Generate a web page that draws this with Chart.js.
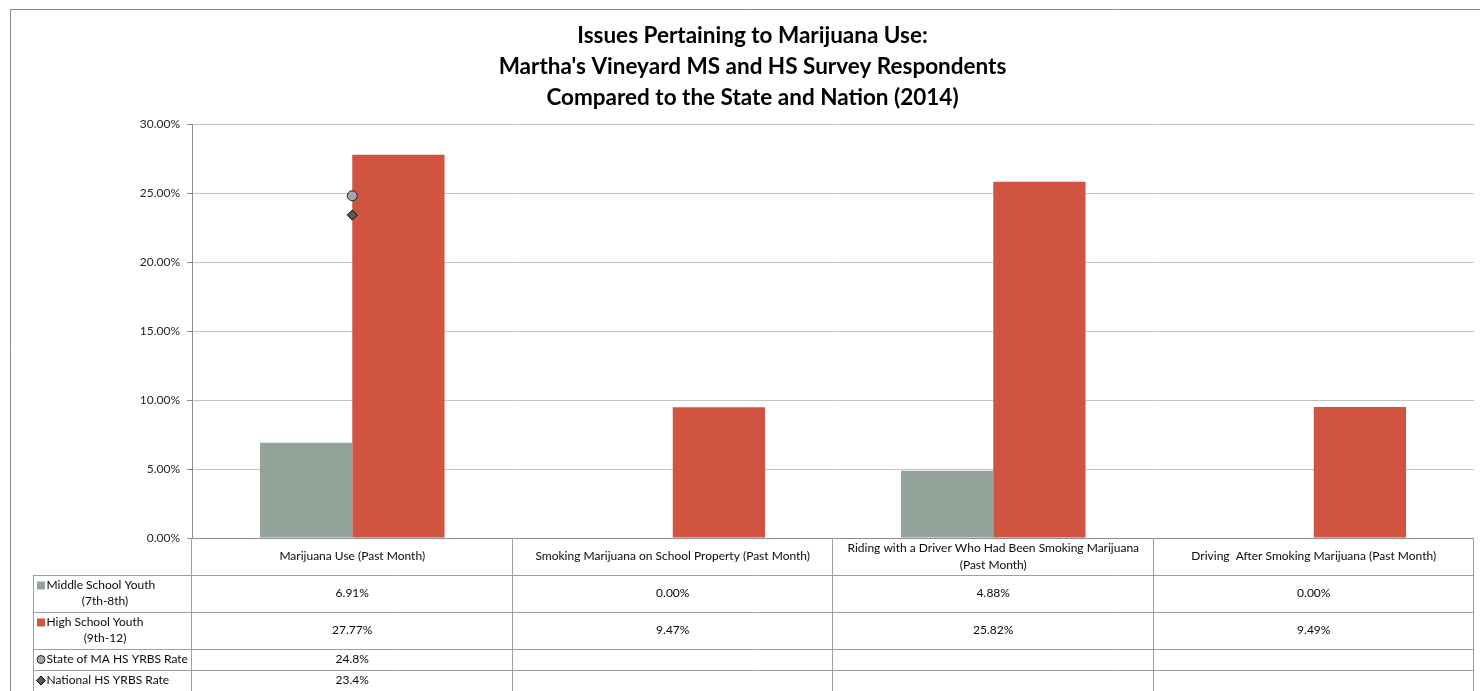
<!DOCTYPE html>
<html>
<head>
<meta charset="utf-8">
<script src="https://cdn.jsdelivr.net/npm/chart.js@4.4.1/dist/chart.umd.min.js"></script>
<style>
  html, body { margin: 0; padding: 0; background: #fff; }
  #wrap { position: relative; width: 1480px; height: 691px; }
</style>
</head>
<body>
<div id="wrap"><canvas id="chart" width="1480" height="691"></canvas></div>
<script>
// chart data
const categories = [
    ['Marijuana Use (Past Month)'],
    ['Smoking Marijuana on School Property (Past Month)'],
    ['Riding with a Driver Who Had Been Smoking Marijuana', '(Past Month)'],
    ['Driving  After Smoking Marijuana (Past Month)']
];
const msValues = [6.91, 0.00, 4.88, 0.00];
const hsValues = [27.77, 9.47, 25.82, 9.49];
const stateRate = [24.8, null, null, null];
const nationalRate = [23.4, null, null, null];
const seriesNames = [
    ['Middle School Youth', '(7th-8th)'],
    ['High School Youth', '(9th-12)'],
    ['State of MA HS YRBS Rate'],
    ['National HS YRBS Rate']
];
const yTicks = [0, 5, 10, 15, 20, 25, 30];
const titleLines = [
    'Issues Pertaining to Marijuana Use:',
    "Martha's Vineyard MS and HS Survey Respondents",
    'Compared to the State and Nation (2014)'
];

const FONT = 'Lato, "Open Sans", sans-serif';
const msColor = '#93A399';
const hsColor = '#D05440';
const lineColor = '#9E9E9E';

// Outer frame, like the embedded Excel chart border
const framePlugin = {
    id: 'frame',
    beforeDraw(chart) {
        const ctx = chart.ctx;
        ctx.save();
        ctx.strokeStyle = '#8A8A8A';
        ctx.lineWidth = 1;
        ctx.beginPath();
        ctx.moveTo(10.5, 691);
        ctx.lineTo(10.5, 9.5);
        ctx.lineTo(1480, 9.5);
        ctx.stroke();
        ctx.restore();
    }
};

function drawMarker(ctx, kind, color, x, y) {
    ctx.save();
    if (kind === 'square') {
        ctx.fillStyle = color;
        ctx.fillRect(x - 4, y - 4, 8, 8);
    } else if (kind === 'circle') {
        ctx.fillStyle = '#A6A6A6';
        ctx.strokeStyle = '#262626';
        ctx.beginPath();
        ctx.arc(x, y, 4, 0, Math.PI * 2);
        ctx.fill();
        ctx.stroke();
    } else {
        ctx.fillStyle = '#595959';
        ctx.strokeStyle = '#0D0D0D';
        ctx.beginPath();
        ctx.moveTo(x, y - 4.5);
        ctx.lineTo(x + 4.5, y);
        ctx.lineTo(x, y + 4.5);
        ctx.lineTo(x - 4.5, y);
        ctx.closePath();
        ctx.fill();
        ctx.stroke();
    }
    ctx.restore();
}

// Data table under the plot (categories + values per series)
const tablePlugin = {
    id: 'dataTable',
    afterDraw(chart) {
        const ctx = chart.ctx;
        const xs = chart.scales.x;
        const area = chart.chartArea;
        const n = categories.length;
        const cw = (xs.right - xs.left) / n;
        const top = area.bottom;
        const edges = [top, top + 37, top + 74, top + 111, top + 132, top + 153];
        const labelLeft = 33;

        ctx.save();
        ctx.strokeStyle = lineColor;
        ctx.lineWidth = 1;
        ctx.beginPath();
        for (let r = 1; r < edges.length; r++) {
            const y = Math.round(edges[r]) + 0.5;
            ctx.moveTo(labelLeft, y);
            ctx.lineTo(xs.right, y);
        }
        for (let i = 0; i <= n; i++) {
            const x = Math.round(xs.left + i * cw) - 0.5;
            ctx.moveTo(x, top);
            ctx.lineTo(x, 691);
        }
        ctx.moveTo(labelLeft + 0.5, edges[1]);
        ctx.lineTo(labelLeft + 0.5, 691);
        ctx.stroke();

        ctx.fillStyle = '#0A0A0A';
        ctx.font = '12px ' + FONT;
        ctx.textAlign = 'center';
        ctx.textBaseline = 'middle';

        // header row: category names
        categories.forEach((lines, i) => {
            const cx = xs.getPixelForValue(i);
            const cy = (edges[0] + edges[1]) / 2;
            lines.forEach((t, k) => {
                ctx.fillText(t, cx, cy + (k - (lines.length - 1) / 2) * 17);
            });
        });

        const rows = [
            { name: seriesNames[0], marker: 'square', color: msColor, values: msValues.map(v => v.toFixed(2) + '%') },
            { name: seriesNames[1], marker: 'square', color: hsColor, values: hsValues.map(v => v.toFixed(2) + '%') },
            { name: seriesNames[2], marker: 'circle', values: stateRate.map(v => v == null ? '' : v.toFixed(1) + '%') },
            { name: seriesNames[3], marker: 'diamond', values: nationalRate.map(v => v == null ? '' : v.toFixed(1) + '%') }
        ];

        rows.forEach((row, r) => {
            const y0 = edges[r + 1], y1 = edges[r + 2];
            const cy = (y0 + y1) / 2;
            row.values.forEach((t, i) => {
                ctx.textAlign = 'center';
                ctx.fillText(t, xs.getPixelForValue(i), cy);
            });
            const nl = row.name.length;
            row.name.forEach((t, k) => {
                const ly = cy + (k - (nl - 1) / 2) * 16;
                if (k === 0) {
                    drawMarker(ctx, row.marker, row.color, 41, ly);
                    ctx.textAlign = 'left';
                    ctx.fillText(t, 46.5, ly);
                } else {
                    ctx.textAlign = 'center';
                    ctx.fillText(t, 105, ly);
                }
            });
        });
        ctx.restore();
    }
};

const ctx = document.getElementById('chart').getContext('2d');
new Chart(ctx, {
    type: 'bar',
    data: {
        labels: categories,
        datasets: [
            {
                type: 'line',
                label: seriesNames[2].join(' '),
                data: stateRate,
                showLine: false,
                pointStyle: 'circle',
                pointRadius: 5,
                pointBackgroundColor: '#A6A6A6',
                pointBorderColor: '#262626',
                pointBorderWidth: 1,
                order: 0
            },
            {
                type: 'line',
                label: seriesNames[3].join(' '),
                data: nationalRate,
                showLine: false,
                pointStyle: 'rectRot',
                pointRadius: 5,
                pointBackgroundColor: '#595959',
                pointBorderColor: '#0D0D0D',
                pointBorderWidth: 1,
                order: 0
            },
            {
                label: seriesNames[0].join(' '),
                data: msValues,
                backgroundColor: msColor,
                categoryPercentage: 0.576,
                barPercentage: 1.0,
                order: 1
            },
            {
                label: seriesNames[1].join(' '),
                data: hsValues,
                backgroundColor: hsColor,
                categoryPercentage: 0.576,
                barPercentage: 1.0,
                order: 1
            }
        ]
    },
    options: {
        responsive: false,
        animation: false,
        devicePixelRatio: 1,
        layout: { padding: { top: 0, left: 30, right: 5, bottom: 0 } },
        plugins: {
            legend: { display: false },
            tooltip: { enabled: false },
            title: {
                display: true,
                text: titleLines,
                color: '#000',
                font: { family: FONT, size: 22.5, weight: 'bold', lineHeight: 31 / 22.5 },
                padding: { top: 20, bottom: 11 }
            }
        },
        scales: {
            x: {
                ticks: { display: false },
                grid: { display: false },
                border: { display: false },
                afterFit(scale) { scale.height = 153; }
            },
            y: {
                min: 0,
                max: 30,
                afterBuildTicks(scale) { scale.ticks = yTicks.map(v => ({ value: v })); },
                ticks: {
                    color: '#262626',
                    font: { family: FONT, size: 12 },
                    padding: 7,
                    callback: v => v.toFixed(2) + '%'
                },
                grid: {
                    color: c => (c.tick && c.tick.value === 0) ? '#8C8C8C' : '#C4C4C4',
                    tickColor: '#8C8C8C',
                    tickLength: 5
                },
                border: { color: '#8C8C8C' },
                afterFit(scale) { scale.width = 162; }
            }
        }
    },
    plugins: [framePlugin, tablePlugin]
});
</script>
</body>
</html>
